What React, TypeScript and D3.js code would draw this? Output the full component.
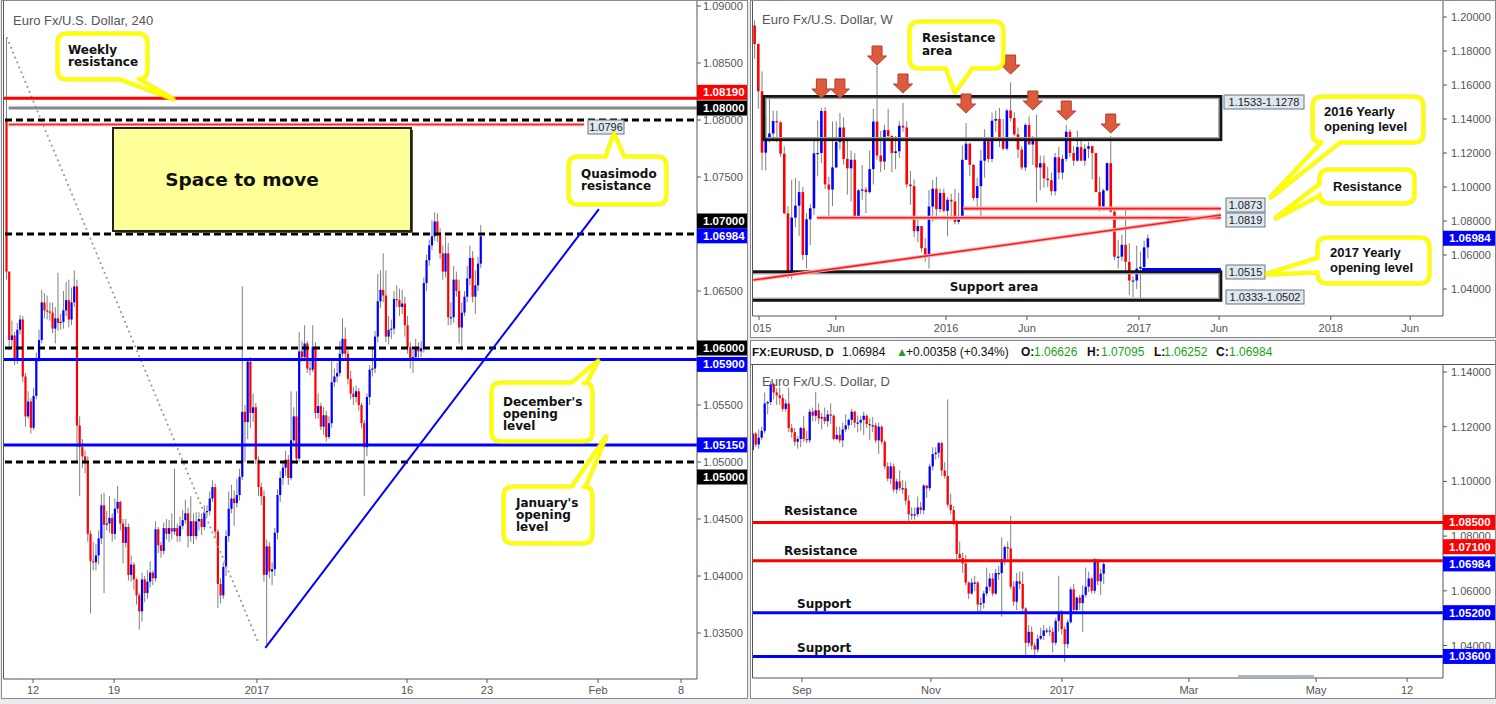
import React from 'react';
import * as d3 from 'd3';

// ---------------- 4H panel data (price in pips, 1e-4) ----------------
const h4Open0 = 10800;
const h4Close = [
  10667,10607,10611,10589,10616,10625,10575,10540,10553,10530,
  10558,10591,10607,10640,10633,10632,10631,10617,10626,10622,
  10623,10633,10642,10625,10640,10654,10532,10513,10505,10500,
  10437,10413,10412,10418,10433,10462,10445,10446,10451,10437,
  10459,10465,10446,10429,10443,10401,10410,10397,10383,10369,
  10397,10385,10395,10403,10398,10441,10427,10422,10442,10437,
  10442,10439,10442,10435,10444,10449,10455,10435,10448,10435,
  10448,10450,10443,10456,10457,10468,10478,10439,10393,10383,
  10408,10435,10459,10468,10464,10471,10487,10544,10535,10588,
  10543,10548,10502,10478,10470,10401,10426,10404,10406,10438,
  10471,10486,10495,10502,10486,10519,10540,10503,10597,10592,
  10604,10582,10581,10601,10543,10549,10531,10541,10522,10534,
  10570,10575,10578,10595,10608,10595,10573,10560,10557,10562,
  10550,10534,10513,10557,10581,10582,10610,10641,10651,10646,
  10610,10616,10617,10643,10642,10636,10639,10620,10601,10590,
  10592,10601,10597,10600,10657,10677,10690,10698,10711,10699,
  10683,10667,10683,10627,10627,10660,10650,10618,10631,10645,
  10661,10679,10645,10655,10674,10698];
const h4High = [
  10872,10667,10624,10614,10622,10629,10628,10578,10562,10556,
  10565,10596,10616,10651,10648,10646,10640,10640,10636,10666,
  10630,10650,10658,10660,10653,10668,10660,10540,10520,10510,
  10505,10440,10430,10428,10440,10472,10473,10457,10470,10455,
  10468,10479,10466,10450,10450,10446,10418,10412,10398,10385,
  10403,10400,10405,10413,10405,10448,10443,10430,10447,10450,
  10449,10455,10494,10446,10452,10458,10467,10460,10470,10455,
  10456,10456,10455,10462,10462,10474,10484,10481,10441,10398,
  10412,10440,10474,10480,10475,10485,10494,10654,10550,10590,
  10592,10560,10552,10505,10482,10475,10432,10430,10412,10442,
  10476,10492,10500,10510,10506,10562,10548,10562,10614,10606,
  10620,10606,10590,10620,10605,10560,10552,10548,10545,10540,
  10590,10582,10587,10606,10626,10618,10598,10580,10566,10567,
  10565,10552,10537,10560,10585,10600,10615,10665,10668,10683,
  10668,10628,10625,10650,10655,10652,10651,10645,10628,10605,
  10598,10608,10605,10606,10662,10682,10695,10712,10719,10718,
  10705,10690,10698,10692,10640,10672,10667,10660,10640,10650,
  10672,10690,10685,10668,10680,10708];
const h4Low = [
  10660,10598,10600,10585,10586,10612,10570,10531,10538,10525,
  10528,10555,10588,10604,10626,10625,10624,10613,10604,10615,
  10616,10617,10628,10618,10620,10636,10500,10470,10495,10490,
  10430,10367,10405,10405,10410,10428,10385,10440,10438,10430,
  10432,10455,10440,10411,10425,10396,10395,10388,10375,10353,
  10360,10377,10380,10390,10392,10395,10420,10416,10419,10432,
  10430,10432,10436,10430,10430,10441,10446,10425,10430,10428,
  10432,10440,10436,10440,10452,10453,10465,10433,10372,10376,
  10380,10400,10430,10455,10444,10460,10466,10484,10500,10520,
  10530,10535,10498,10470,10462,10395,10340,10398,10392,10400,
  10432,10465,10480,10488,10480,10484,10515,10498,10500,10588,
  10590,10578,10576,10579,10538,10538,10528,10524,10518,10520,
  10530,10566,10570,10575,10592,10590,10568,10555,10550,10552,
  10545,10530,10470,10505,10550,10575,10578,10605,10635,10640,
  10605,10603,10608,10612,10636,10628,10630,10610,10595,10582,
  10578,10589,10590,10592,10596,10650,10672,10686,10694,10693,
  10678,10660,10662,10620,10620,10622,10645,10604,10598,10628,
  10640,10655,10640,10630,10650,10670];
const h4PriceTicks = [1.035,1.04,1.045,1.05,1.055,1.06,1.065,1.07,1.075,1.08,1.085,1.09];
const h4TimeLabels = ['12','19','2017','16','23','Feb','8'];
const h4TimeBars = [9.8,39.7,92.4,147.8,177.3,218.3,248.9];
const h4Dashed = [1.08,1.07,1.06,1.05];
const h4BlueLevels = [1.059,1.0515];
const h4RedLevel = 1.0819;
const h4GrayLevel = 1.08105;
const h4Qm = 1.0796;
const h4DotTrend = [[0.2,1.0872],[92.8,1.03421]];
const h4BlueTrend = [[95.5,1.0337],[218.6,1.07219]];
const h4Tags = [
  { v: 1.0819, t: '1.08190', c: '#ff0000' },
  { v: 1.08105, t: '1.08000', c: '#000000' },
  { v: 1.07, t: '1.07000', c: '#000000' },
  { v: 1.06984, t: '1.06984', c: '#0000ff' },
  { v: 1.06, t: '1.06000', c: '#000000' },
  { v: 1.059, t: '1.05900', c: '#0000ff' },
  { v: 1.0515, t: '1.05150', c: '#0000ff' },
  { v: 1.05, t: '1.05000', c: '#000000' },
];
const h4TagNudge = [-6, 0, -13, 0, 0, 5, 0, 15];

// ---------------- Weekly panel data ----------------
const wkOpen0 = 11950;
const wkClose = [
  11841,11563,11202,11290,11315,11388,11380,11196,10845,10496,
  10820,10890,10970,10600,10810,10875,11198,11200,11447,11015,
  10985,11115,11265,11350,11165,11110,11160,10825,10980,10985,
  10970,11105,11385,11185,11150,11335,11300,11200,11210,11360,
  11350,11015,11005,10740,10770,10640,10590,10885,10990,10870,
  10965,10860,10925,10915,10795,10830,11160,11255,11130,10935,
  11005,11155,11270,11165,11390,11400,11285,11225,11450,11405,
  11310,11220,11115,11365,11250,11280,11115,11140,11050,11040,
  10975,11175,11085,11165,11325,11200,11155,11235,11155,11225,
  11240,11200,10970,10885,10980,11140,10855,10590,10590,10660,
  10560,10450,10450,10520,10530,10645,10698];
const wkHigh = [
  11980,11845,11680,11423,11534,11449,11449,11389,11239,10887,
  11043,11052,11035,11000,10845,10900,11290,11391,11466,11469,
  11060,11385,11386,11436,11410,11278,11215,11200,10988,11129,
  11000,11215,11460,11714,11330,11366,11460,11305,11300,11387,
  11495,11387,11095,11045,10830,10770,10700,10982,11042,11060,
  10990,10990,10940,10960,10990,10965,11245,11376,11260,11135,
  11055,11218,11340,11275,11438,11450,11465,11400,11460,11616,
  11440,11350,11240,11375,11415,11300,11425,11185,11185,11120,
  11085,11200,11235,11190,11365,11340,11240,11330,11285,11250,
  11265,11240,11200,11060,10990,11145,11300,10870,10690,10720,
  10875,10670,10475,10655,10620,10685,10720];
const wkLow = [
  11754,11460,11098,11098,11262,11270,11262,11176,10840,10462,
  10457,10764,10711,10570,10520,10658,10835,11063,11140,10988,
  10819,10888,11110,11219,11130,10955,10915,10808,10810,10925,
  10847,10960,11015,11160,11087,11100,11272,11087,11105,11170,
  11325,10995,10895,10706,10675,10617,10560,10520,10795,10805,
  10850,10850,10710,10805,10780,10780,10810,11160,11065,10920,
  10860,10820,11055,11145,11145,11325,11235,11215,11215,11385,
  11300,11170,11100,11095,11250,11130,10910,10980,10995,11000,
  10950,10950,11045,11045,11150,11175,11125,11150,11150,11125,
  11170,11045,10970,10855,10860,10975,10850,10570,10520,10565,
  10505,10365,10352,10400,10340,10520,10580];
const wkPriceTicks = [1.04,1.06,1.08,1.1,1.12,1.14,1.16,1.18,1.2];
const wkTimeLabels = ['2015','Jun','2016','Jun','2017','Jun','2018','Jun'];
const wkTimeWeeks = [1.2,21.9,51.6,73.4,103.6,125.2,155.3,176.7];
const wkResZone = [1.1533, 1.1278];
const wkSupZone = [1.0502, 1.0333];
const wkRedLevels = [{ v: 1.0873, from: 56.2 }, { v: 1.0819, from: 16.8 }];
const wkBlueLevel = { v: 1.0515, from: 104.4 };
const wkZoneEnd = 125.7;
const wkTrend = [[-0.3, 1.04529], [125.7, 1.08353]];
const wkArrowWeeks = [18, 23, 33, 40, 57, 69, 75, 84, 96];
const wkArrowTips = [1.15235, 1.15235, 1.17176, 1.15529, 1.14353, 1.16647, 1.14529, 1.13941, 1.13176];
const wkLast = 1.06984;

// ---------------- Daily panel data ----------------
const dOpen0 = 11115;
const dClose = [
  11175,11135,11160,11185,11285,11290,11355,11325,11315,11305,
  11265,11285,11195,11180,11145,11155,11195,11155,11150,11255,
  11240,11260,11230,11235,11220,11245,11240,11155,11170,11150,
  11190,11205,11225,11255,11215,11215,11225,11240,11210,11205,
  11205,11150,11200,11145,11055,11010,11055,10970,11000,10975,
  10975,10930,10880,10880,10880,10905,10895,10985,10975,11055,
  11100,11105,11140,11040,11020,10915,10895,10855,10735,10720,
  10700,10630,10590,10630,10630,10550,10555,10590,10615,10645,
  10590,10665,10665,10715,10760,10755,10615,10560,10635,10625,
  10535,10410,10450,10400,10385,10425,10435,10455,10455,10450,
  10410,10490,10520,10460,10405,10485,10605,10530,10575,10555,
  10585,10615,10645,10600,10715,10635,10663,10698];
const dHigh = [
  11185,11180,11190,11200,11325,11295,11366,11360,11340,11345,
  11320,11300,11342,11210,11195,11165,11200,11240,11185,11265,
  11270,11327,11285,11250,11270,11260,11285,11245,11200,11200,
  11215,11245,11230,11265,11260,11240,11240,11255,11245,11230,
  11235,11215,11215,11205,11150,11070,11070,11065,11010,11040,
  11005,11000,10950,10905,10905,10945,10925,10990,10985,11065,
  11125,11125,11145,11145,11070,11300,10955,10910,10860,10780,
  10740,10730,10635,10645,10655,10635,10575,10600,10685,10665,
  10665,10680,10690,10795,10765,10780,10874,10635,10665,10670,
  10670,10540,10475,10470,10410,10440,10465,10475,10465,10470,
  10465,10500,10655,10530,10470,10495,10615,10625,10580,10585,
  10620,10685,10670,10650,10720,10715,10680,10710];
const dLow = [
  11105,11125,11120,11150,11175,11245,11280,11300,11280,11280,
  11255,11255,11180,11160,11130,11120,11125,11145,11140,11140,
  11220,11220,11210,11190,11210,11200,11210,11150,11150,11140,
  11125,11180,11190,11205,11195,11180,11185,11170,11195,11150,
  11180,11140,11100,11135,11045,11000,10990,10960,10955,10965,
  10955,10915,10855,10860,10860,10870,10880,10880,10940,10965,
  11040,11080,11085,11020,11010,10905,10880,10840,10705,10710,
  10665,10620,10570,10585,10600,10520,10525,10535,10580,10600,
  10580,10585,10640,10505,10695,10715,10605,10545,10530,10605,
  10525,10365,10395,10385,10352,10375,10420,10420,10445,10435,
  10375,10400,10450,10440,10340,10390,10480,10520,10520,10530,
  10450,10575,10595,10590,10590,10620,10585,10625];
const dPriceTicks = [1.04,1.06,1.08,1.1,1.12,1.14];
const dTimeLabels = ['Sep','Nov','2017','Mar','May','12'];
const dTimeBars = [16.4,59.4,103.1,145.4,187.8,218.1];
const dRedLevels = [1.085, 1.071];
const dBlueLevels = [1.052, 1.036];
const dTags = [
  { v: 1.085, t: '1.08500', c: '#ff0000' },
  { v: 1.071, t: '1.07100', c: '#ff0000' },
  { v: 1.06984, t: '1.06984', c: '#0000ff' },
  { v: 1.052, t: '1.05200', c: '#0000ff' },
  { v: 1.036, t: '1.03600', c: '#0000ff' },
];
const dTagNudge = [0, -14, 0, 0, 0];
const dHeader = { sym: 'FX:EURUSD, D', last: '1.06984', chg: '+0.00358 (+0.34%)', o: '1.06626', h: '1.07095', l: '1.06252', c: '1.06984' };

// ---------------- helpers ----------------
type Candle = { i: number; o: number; h: number; l: number; c: number };
const toCandles = (open0: number, close: number[], high: number[], low: number[]): Candle[] =>
  close.map((c, i) => ({ i, o: (i === 0 ? open0 : close[i - 1]) / 1e4, c: c / 1e4, h: high[i] / 1e4, l: low[i] / 1e4 }));

const AX = "'Liberation Sans', Arial, sans-serif";
const DJ = "'DejaVu Sans', Verdana, sans-serif";

function Candles({ data, x, y, bw }: { data: Candle[]; x: (v: number) => number; y: (v: number) => number; bw: number }) {
  return (
    <g>
      {data.map((d) => {
        const up = d.c >= d.o;
        const top = y(Math.max(d.o, d.c));
        const bot = y(Math.min(d.o, d.c));
        const cx = x(d.i);
        return (
          <g key={d.i}>
            <line x1={cx} x2={cx} y1={y(d.h)} y2={y(d.l)} stroke="#808080" strokeWidth={1} />
            <rect x={cx - bw / 2} y={top} width={bw} height={Math.max(1.2, bot - top)} fill={up ? '#0000ff' : '#ff0000'} />
          </g>
        );
      })}
    </g>
  );
}

function Tag({ x, y, w, text, color }: { x: number; y: number; w: number; text: string; color: string }) {
  return (
    <g>
      <rect x={x} y={y - 7.5} width={w} height={15} fill={color} />
      <text x={x + 6} y={y + 4} fill="#fff" fontFamily={AX} fontSize={11.5} fontWeight="bold">{text}</text>
    </g>
  );
}

function LabelBox({ x, y, text, w }: { x: number; y: number; text: string; w: number }) {
  return (
    <g>
      <rect x={x} y={y - 7} width={w} height={14} fill="#dfe7ef" stroke="#6b7785" strokeWidth={1} />
      <text x={x + w / 2} y={y + 4} textAnchor="middle" fill="#222" fontFamily={AX} fontSize={11}>{text}</text>
    </g>
  );
}

type Tail = { side: 'top' | 'bottom' | 'left' | 'right'; a: number; b: number; tx: number; ty: number };
function calloutPath(x: number, y: number, w: number, h: number, r: number, t: Tail) {
  let p = `M${x + r},${y}`;
  if (t.side === 'top') p += ` L${t.a},${y} L${t.tx},${t.ty} L${t.b},${y}`;
  p += ` L${x + w - r},${y} Q${x + w},${y} ${x + w},${y + r}`;
  if (t.side === 'right') p += ` L${x + w},${t.a} L${t.tx},${t.ty} L${x + w},${t.b}`;
  p += ` L${x + w},${y + h - r} Q${x + w},${y + h} ${x + w - r},${y + h}`;
  if (t.side === 'bottom') p += ` L${t.a},${y + h} L${t.tx},${t.ty} L${t.b},${y + h}`;
  p += ` L${x + r},${y + h} Q${x},${y + h} ${x},${y + h - r}`;
  if (t.side === 'left') p += ` L${x},${t.a} L${t.tx},${t.ty} L${x},${t.b}`;
  p += ` L${x},${y + r} Q${x},${y} ${x + r},${y} Z`;
  return p;
}

type Callout = { x: number; y: number; w: number; h: number; tail: Tail; lines: string[]; lx: number; ly: number[]; big?: boolean };
const callouts: Callout[] = [
  { x: 58, y: 34, w: 89, h: 45, tail: { side: 'bottom', a: 138, b: 120, tx: 173, ty: 99 }, lines: ['Weekly', 'resistance'], lx: 68, ly: [50, 62] },
  { x: 569, y: 157, w: 97, h: 47, tail: { side: 'top', a: 606, b: 624, tx: 614, ty: 134 }, lines: ['Quasimodo', 'resistance'], lx: 581, ly: [174, 186] },
  { x: 492, y: 383, w: 100, h: 58, tail: { side: 'top', a: 572, b: 586, tx: 598, ty: 361 }, lines: ["December's", 'opening', 'level'], lx: 503, ly: [402, 414, 426] },
  { x: 504, y: 487, w: 88, h: 56, tail: { side: 'top', a: 572, b: 585, tx: 606, ty: 437 }, lines: ["January's", 'opening', 'level'], lx: 516, ly: [503, 515, 527] },
  { x: 910, y: 22, w: 93, h: 46, tail: { side: 'bottom', a: 972, b: 946, tx: 955, ty: 92 }, lines: ['Resistance', 'area'], lx: 922, ly: [38, 51] },
  { x: 1313, y: 97, w: 110, h: 45, tail: { side: 'bottom', a: 1340, b: 1322, tx: 1271, ty: 197 }, lines: ['2016 Yearly', 'opening level'], lx: 1324, ly: [111, 126], big: true },
  { x: 1320, y: 170, w: 94, h: 33, tail: { side: 'left', a: 195, b: 184, tx: 1276, ty: 218 }, lines: ['Resistance'], lx: 1333, ly: [186], big: true },
  { x: 1318, y: 238, w: 111, h: 45, tail: { side: 'left', a: 272, b: 258, tx: 1267, ty: 274 }, lines: ['2017 Yearly', 'opening level'], lx: 1330, ly: [252, 267], big: true },
];

function CalloutShape({ c }: { c: Callout }) {
  const d = calloutPath(c.x, c.y, c.w, c.h, 9, c.tail);
  return (
    <g>
      <path d={d} fill="#fff" stroke="#e6e600" strokeWidth={5.5} strokeLinejoin="round" opacity={0.6} />
      <path d={d} fill="#fff" stroke="#ffff00" strokeWidth={3.5} strokeLinejoin="round" />
      {c.lines.map((s, i) => (
        <text key={i} x={c.lx} y={c.ly[i] + (c.big ? 4.7 : 4.3)} fill="#111" fontFamily={c.big ? AX : DJ} fontSize={c.big ? 13 : 12} fontWeight="bold">{s}</text>
      ))}
    </g>
  );
}

function Arrow({ x, y }: { x: number; y: number }) {
  const d = `M${x - 5},${y - 19} L${x + 5},${y - 19} L${x + 5},${y - 9} L${x + 9.5},${y - 9} L${x},${y} L${x - 9.5},${y - 9} L${x - 5},${y - 9} Z`;
  return <path d={d} fill="#dd5a3c" stroke="#b0412a" strokeWidth={1} strokeLinejoin="round" />;
}

export default function App() {
  const h4 = toCandles(h4Open0, h4Close, h4High, h4Low);
  const wk = toCandles(wkOpen0, wkClose, wkHigh, wkLow);
  const dy = toCandles(dOpen0, dClose, dHigh, dLow);

  const xH = d3.scaleLinear().domain([0, 100]).range([6.5, 277.5]);
  const yH = d3.scaleLinear().domain([1.035, 1.09]).range([633, 6]);
  const xW = d3.scaleLinear().domain([0, 100]).range([754.6, 1125.6]);
  const yW = d3.scaleLinear().domain([1.04, 1.2]).range([289, 17]);
  const xD = d3.scaleLinear().domain([0, 100]).range([752.7, 1052.7]);
  const yD = d3.scaleLinear().domain([1.04, 1.14]).range([645.5, 372]);

  const LR = 697; // left panel axis x
  const RR = 1443; // right panels axis x

  return (
    <svg width={1496} height={704} style={{ position: 'absolute', left: 0, top: 0, display: 'block' }}>
      <defs>
        <clipPath id="cpH"><rect x={4} y={2} width={LR - 4} height={677} /></clipPath>
        <clipPath id="cpW"><rect x={753} y={1} width={RR - 753} height={315} /></clipPath>
        <clipPath id="cpD"><rect x={753} y={365} width={RR - 753} height={313} /></clipPath>
        <clipPath id="cpWx"><rect x={753} y={316} width={742} height={20} /></clipPath>
      </defs>
      <rect x={0} y={0} width={1496} height={704} fill="#e8ebef" />

      {/* ================= LEFT 4H PANEL ================= */}
      <rect x={1.5} y={0.5} width={746} height={698} fill="#fff" stroke="#8a8a8a" />
      <g clipPath="url(#cpH)">
        <Candles data={h4} x={xH} y={yH} bw={2.2} />
        <line x1={xH(h4DotTrend[0][0])} y1={yH(h4DotTrend[0][1])} x2={xH(h4DotTrend[1][0])} y2={yH(h4DotTrend[1][1])}
          stroke="#999" strokeWidth={2} strokeDasharray="0.1,5.2" strokeLinecap="round" />
        <line x1={4} x2={LR} y1={yH(h4RedLevel)} y2={yH(h4RedLevel)} stroke="#ff0000" strokeWidth={3} />
        <line x1={8.6} x2={LR} y1={yH(h4GrayLevel)} y2={yH(h4GrayLevel)} stroke="#888" strokeWidth={3} />
        <line x1={8.6} x2={584} y1={yH(h4Qm)} y2={yH(h4Qm)} stroke="#ffb0b0" strokeWidth={3.5} />
        <line x1={8.6} x2={584} y1={yH(h4Qm)} y2={yH(h4Qm)} stroke="#ff2020" strokeWidth={1.5} />
        {h4Dashed.map((v) => (
          <line key={v} x1={5} x2={LR} y1={yH(v)} y2={yH(v)} stroke="#000" strokeWidth={3} strokeDasharray="7,4" />
        ))}
        {h4BlueLevels.map((v) => (
          <line key={v} x1={4} x2={LR} y1={yH(v)} y2={yH(v)} stroke="#0000ff" strokeWidth={3} />
        ))}
        <line x1={xH(h4BlueTrend[0][0])} y1={yH(h4BlueTrend[0][1])} x2={xH(h4BlueTrend[1][0])} y2={yH(h4BlueTrend[1][1])}
          stroke="#0000ff" strokeWidth={2} />
      </g>
      <LabelBox x={588} y={127} w={36} text="1.0796" />
      <rect x={115} y={130} width={298} height={103} fill="#5a5a10" />
      <rect x={113} y={128} width={298} height={103} fill="#ffff99" stroke="#222" strokeWidth={2} />
      <text x={242} y={185.5} textAnchor="middle" fill="#111" fontFamily={DJ} fontSize={18.5} fontWeight="bold">Space to move</text>
      <text x={13} y={24.5} fill="#555" fontFamily={AX} fontSize={13}>Euro Fx/U.S. Dollar, 240</text>
      <line x1={LR} x2={LR} y1={1} y2={679} stroke="#555" />
      <line x1={3.5} x2={3.5} y1={1} y2={679} stroke="#555" />
      <line x1={3.5} x2={LR} y1={679} y2={679} stroke="#555" />
      {h4PriceTicks.map((v) => (
        <g key={v}>
          <line x1={LR} x2={LR + 4} y1={yH(v)} y2={yH(v)} stroke="#555" />
          <text x={LR + 6} y={yH(v) + 4} fill="#555" fontFamily={AX} fontSize={11}>{v.toFixed(5)}</text>
        </g>
      ))}
      {h4Tags.map((t, i) => (
        <Tag key={i} x={LR} y={yH(t.v) + h4TagNudge[i]} w={50} text={t.t} color={t.c} />
      ))}
      {h4TimeLabels.map((s, i) => (
        <g key={i}>
          <line x1={xH(h4TimeBars[i])} x2={xH(h4TimeBars[i])} y1={679} y2={683} stroke="#555" />
          <text x={xH(h4TimeBars[i])} y={694} textAnchor="middle" fill="#555" fontFamily={AX} fontSize={11}>{s}</text>
        </g>
      ))}

      {/* ================= WEEKLY PANEL ================= */}
      <rect x={750.5} y={0.5} width={745} height={337} fill="#fff" stroke="#8a8a8a" />
      <g clipPath="url(#cpW)">
        <Candles data={wk} x={xW} y={yW} bw={2.6} />
        {[wkResZone, wkSupZone].map((z, k) => {
          const x0 = k === 0 ? xW(2.5) : xW(-2);
          const x1 = xW(wkZoneEnd);
          return (
            <g key={k}>
              <rect x={x0 + 2} y={yW(z[0]) + 2} width={x1 - x0 - 4} height={yW(z[1]) - yW(z[0]) - 4} fill="none" stroke="#a0a0a0" strokeWidth={1.5} />
              <rect x={x0} y={yW(z[0])} width={x1 - x0} height={yW(z[1]) - yW(z[0])} fill="none" stroke="#151515" strokeWidth={2.8} />
            </g>
          );
        })}
        {wkRedLevels.map((l) => (
          <g key={l.v}>
            <line x1={xW(l.from)} x2={xW(wkZoneEnd)} y1={yW(l.v)} y2={yW(l.v)} stroke="#ffb0b0" strokeWidth={4} />
            <line x1={xW(l.from)} x2={xW(wkZoneEnd)} y1={yW(l.v)} y2={yW(l.v)} stroke="#ff1a1a" strokeWidth={1.6} />
          </g>
        ))}
        <line x1={xW(wkTrend[0][0])} y1={yW(wkTrend[0][1])} x2={xW(wkTrend[1][0])} y2={yW(wkTrend[1][1])} stroke="#ffb0b0" strokeWidth={3.5} />
        <line x1={xW(wkTrend[0][0])} y1={yW(wkTrend[0][1])} x2={xW(wkTrend[1][0])} y2={yW(wkTrend[1][1])} stroke="#ff1a1a" strokeWidth={1.6} />
        <line x1={xW(wkBlueLevel.from)} x2={xW(wkZoneEnd)} y1={yW(wkBlueLevel.v)} y2={yW(wkBlueLevel.v)} stroke="#0000ff" strokeWidth={3} />
        {wkArrowWeeks.map((w, i) => (
          <Arrow key={i} x={xW(w)} y={yW(wkArrowTips[i])} />
        ))}
      </g>
      <text x={994} y={290.5} textAnchor="middle" fill="#111" fontFamily={DJ} fontSize={12} fontWeight="bold">Support area</text>
      <LabelBox x={1224} y={102} w={80} text="1.1533-1.1278" />
      <LabelBox x={1226} y={205} w={39} text="1.0873" />
      <LabelBox x={1226} y={220} w={39} text="1.0819" />
      <LabelBox x={1226} y={272} w={39} text="1.0515" />
      <LabelBox x={1226} y={297} w={78} text="1.0333-1.0502" />
      <text x={762} y={23.5} fill="#555" fontFamily={AX} fontSize={13}>Euro Fx/U.S. Dollar, W</text>
      <line x1={RR} x2={RR} y1={1} y2={316} stroke="#555" />
      <line x1={752.5} x2={752.5} y1={1} y2={316} stroke="#555" />
      <line x1={752.5} x2={RR} y1={316} y2={316} stroke="#555" />
      {wkPriceTicks.map((v) => (
        <g key={v}>
          <line x1={RR} x2={RR + 4} y1={yW(v)} y2={yW(v)} stroke="#555" />
          <text x={RR + 8} y={yW(v) + 4} fill="#555" fontFamily={AX} fontSize={11}>{v.toFixed(5)}</text>
        </g>
      ))}
      <Tag x={RR} y={yW(wkLast)} w={52} text="1.06984" color="#0000ff" />
      <g clipPath="url(#cpWx)">
        {wkTimeLabels.map((s, i) => (
          <g key={i}>
            <line x1={xW(wkTimeWeeks[i])} x2={xW(wkTimeWeeks[i])} y1={316} y2={320} stroke="#555" />
            <text x={xW(wkTimeWeeks[i])} y={332} textAnchor="middle" fill="#555" fontFamily={AX} fontSize={11}>{s}</text>
          </g>
        ))}
      </g>

      {/* ================= DAILY PANEL ================= */}
      <rect x={750.5} y={340.5} width={745} height={358} fill="#fff" stroke="#8a8a8a" />
      <text y={355.5} fontFamily={AX} fontSize={12} fill="#111">
        <tspan x={752} fontWeight="bold" fontSize={11.5}>{dHeader.sym}</tspan>
        <tspan x={842}>{dHeader.last}</tspan>
        <tspan x={896} fill="#1aa11a">▲</tspan>
        <tspan x={906}>{dHeader.chg}</tspan>
        <tspan x={1021} fontWeight="bold">O:</tspan>
        <tspan x={1034} fill="#1aa11a">{dHeader.o}</tspan>
        <tspan x={1087} fontWeight="bold">H:</tspan>
        <tspan x={1101} fill="#1aa11a">{dHeader.h}</tspan>
        <tspan x={1154} fontWeight="bold">L:</tspan>
        <tspan x={1164} fill="#1aa11a">{dHeader.l}</tspan>
        <tspan x={1216} fontWeight="bold">C:</tspan>
        <tspan x={1229} fill="#1aa11a">{dHeader.c}</tspan>
      </text>
      <line x1={750.5} x2={1495} y1={364.5} y2={364.5} stroke="#555" />
      <g clipPath="url(#cpD)">
        <Candles data={dy} x={xD} y={yD} bw={2.3} />
        {dRedLevels.map((v) => (
          <line key={v} x1={753} x2={RR} y1={yD(v)} y2={yD(v)} stroke="#ff0000" strokeWidth={3} />
        ))}
        {dBlueLevels.map((v) => (
          <line key={v} x1={753} x2={RR} y1={yD(v)} y2={yD(v)} stroke="#0000ff" strokeWidth={3} />
        ))}
      </g>
      <text x={784} y={515} fill="#111" fontFamily={DJ} fontSize={12} fontWeight="bold">Resistance</text>
      <text x={784} y={555} fill="#111" fontFamily={DJ} fontSize={12} fontWeight="bold">Resistance</text>
      <text x={797} y={608} fill="#111" fontFamily={DJ} fontSize={12} fontWeight="bold">Support</text>
      <text x={797} y={652} fill="#111" fontFamily={DJ} fontSize={12} fontWeight="bold">Support</text>
      <text x={762} y={386} fill="#555" fontFamily={AX} fontSize={13}>Euro Fx/U.S. Dollar, D</text>
      <line x1={1238} x2={1314} y1={676} y2={676} stroke="#8ea2b8" strokeWidth={1.5} />
      <line x1={RR} x2={RR} y1={365} y2={678} stroke="#555" />
      <line x1={752.5} x2={752.5} y1={365} y2={678} stroke="#555" />
      <line x1={752.5} x2={RR} y1={678} y2={678} stroke="#555" />
      {dPriceTicks.map((v) => (
        <g key={v}>
          <line x1={RR} x2={RR + 4} y1={yD(v)} y2={yD(v)} stroke="#555" />
          <text x={RR + 8} y={yD(v) + 4} fill="#555" fontFamily={AX} fontSize={11}>{v.toFixed(5)}</text>
        </g>
      ))}
      {dTags.map((t, i) => (
        <Tag key={i} x={RR} y={yD(t.v) + dTagNudge[i]} w={52} text={t.t} color={t.c} />
      ))}
      {dTimeLabels.map((s, i) => (
        <g key={i}>
          <line x1={xD(dTimeBars[i])} x2={xD(dTimeBars[i])} y1={678} y2={682} stroke="#555" />
          <text x={xD(dTimeBars[i])} y={694} textAnchor="middle" fill="#555" fontFamily={AX} fontSize={11}>{s}</text>
        </g>
      ))}

      {callouts.map((c, i) => <CalloutShape key={i} c={c} />)}
    </svg>
  );
}
